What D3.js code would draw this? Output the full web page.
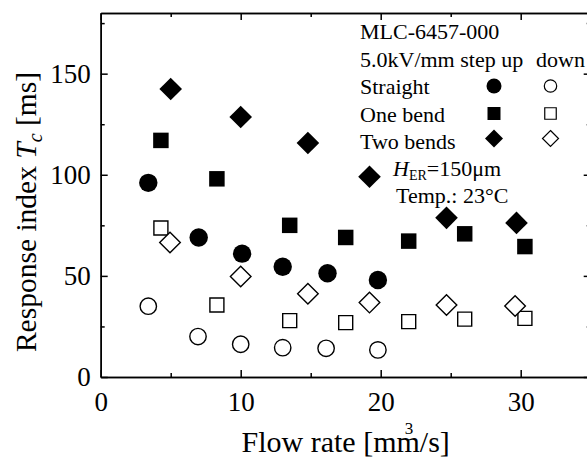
<!DOCTYPE html>
<html>
<head>
<meta charset="utf-8">
<script src="https://cdn.jsdelivr.net/npm/d3@7"></script>
<style>
  body { margin: 0; background: #fff; }
  svg { display: block; font-family: 'Liberation Serif', 'Times New Roman', serif; }
</style>
</head>
<body>
<svg id="chart"></svg>
<script>
// Response index Tc [ms] vs flow rate [mm3/s], MLC-6457-000 at 5.0kV/mm
const straightUp = [[3.4, 96], [7.0, 69], [10.1, 61], [13.0, 54.5], [16.2, 51.3], [19.8, 48]]
const straightDown = [[3.4, 35], [6.95, 20], [10.0, 16.2], [13.0, 14.5], [16.1, 14.2], [19.8, 13.4]]
const oneBendUp = [[4.3, 117], [8.3, 98], [13.5, 75], [17.5, 69], [22.0, 67.2], [26.0, 70.8], [30.3, 64.5]]
const oneBendDown = [[4.3, 73.7], [8.3, 35.6], [13.5, 27.9], [17.5, 26.9], [22.0, 27.4], [26.0, 28.6], [30.3, 29]]
const twoBendsUp = [[5.0, 142.4], [10.0, 128.6], [14.8, 115.7], [19.2, 99], [24.7, 78.7], [29.7, 76.2]]
const twoBendsDown = [[4.95, 66.5], [10.0, 49.7], [14.8, 41.2], [19.2, 36.8], [24.7, 35.6], [29.6, 35.1]]

const xTicks = [0, 10, 20, 30]
const xMinorTicks = [5, 15, 25, 35]
const yTicks = [0, 50, 100, 150]
const yMinorTicks = [25, 75, 125, 175]

const legendLines = ['MLC-6457-000', '5.0kV/mm step up', 'Straight', 'One bend', 'Two bends']

const width = 587
const height = 458
const plotLeft = 100.7
const plotRight = 590.7
const plotTop = 13
const plotBottom = 377

const svg = d3.select('#chart').attr('width', width).attr('height', height)

const x = d3.scaleLinear().domain([0, 35]).range([plotLeft, plotRight])
const y = d3.scaleLinear().domain([0, 180]).range([plotBottom, plotTop])

// axes, ticks pointing inward on all four sides
const styleAxis = g => {
  g.selectAll('path, line').attr('stroke', '#000').attr('stroke-width', 1.5)
  g.selectAll('text').attr('fill', '#000').attr('font-family', 'Liberation Serif').attr('font-size', 27)
}

svg.append('g')
  .attr('transform', `translate(0,${plotBottom})`)
  .call(d3.axisBottom(x).tickValues(xTicks).tickSizeInner(-7).tickSizeOuter(0).tickPadding(15))
  .call(styleAxis)
svg.append('g')
  .attr('transform', `translate(0,${plotBottom})`)
  .call(d3.axisBottom(x).tickValues(xMinorTicks).tickSizeInner(-4).tickSizeOuter(0).tickFormat(''))
  .call(styleAxis)
svg.append('g')
  .attr('transform', `translate(0,${plotTop})`)
  .call(d3.axisTop(x).tickValues(xTicks).tickSizeInner(-7).tickSizeOuter(0).tickFormat(''))
  .call(styleAxis)
svg.append('g')
  .attr('transform', `translate(0,${plotTop})`)
  .call(d3.axisTop(x).tickValues(xMinorTicks).tickSizeInner(-4).tickSizeOuter(0).tickFormat(''))
  .call(styleAxis)

svg.append('g')
  .attr('transform', `translate(${plotLeft},0)`)
  .call(d3.axisLeft(y).tickValues(yTicks).tickSizeInner(-7).tickSizeOuter(0).tickPadding(10))
  .call(styleAxis)
svg.append('g')
  .attr('transform', `translate(${plotLeft},0)`)
  .call(d3.axisLeft(y).tickValues(yMinorTicks).tickSizeInner(-4).tickSizeOuter(0).tickFormat(''))
  .call(styleAxis)
svg.append('g')
  .attr('transform', `translate(${plotRight},0)`)
  .call(d3.axisRight(y).tickValues(yTicks).tickSizeInner(-7).tickSizeOuter(0).tickFormat(''))
  .call(styleAxis)
svg.append('g')
  .attr('transform', `translate(${plotRight},0)`)
  .call(d3.axisRight(y).tickValues(yMinorTicks).tickSizeInner(-4).tickSizeOuter(0).tickFormat(''))
  .call(styleAxis)

// marker shapes
const diamond = h => `M0,${-h}L${h},0L0,${h}L${-h},0Z`
const square = s => `M${-s / 2},${-s / 2}h${s}v${s}h${-s}Z`

const drawCircles = (data, r, filled) => {
  svg.append('g')
    .selectAll('circle')
    .data(data)
    .enter()
    .append('circle')
    .attr('cx', d => x(d[0]))
    .attr('cy', d => y(d[1]))
    .attr('r', r)
    .attr('fill', filled ? '#000' : '#fff')
    .attr('stroke', '#000')
    .attr('stroke-width', filled ? 0 : 1.4)
}

const drawPaths = (data, shape, filled) => {
  svg.append('g')
    .selectAll('path')
    .data(data)
    .enter()
    .append('path')
    .attr('d', shape)
    .attr('transform', d => `translate(${x(d[0])},${y(d[1])})`)
    .attr('fill', filled ? '#000' : '#fff')
    .attr('stroke', '#000')
    .attr('stroke-width', filled ? 0 : 1.4)
}

drawCircles(straightDown, 8.2, false)
drawPaths(oneBendDown, square(14), false)
drawPaths(twoBendsDown, diamond(10.3), false)
drawCircles(straightUp, 9.2, true)
drawPaths(oneBendUp, square(15.5), true)
drawPaths(twoBendsUp, diamond(11.3), true)

// legend block
const legend = svg.append('g').attr('font-size', 22).attr('fill', '#000')
const legendY = [39, 66.5, 94, 121.5, 148.5]

legend.selectAll('text.line')
  .data(legendLines)
  .enter()
  .append('text')
  .attr('class', 'line')
  .attr('x', 360)
  .attr('y', (d, i) => legendY[i])
  .text(d => d)

legend.append('text').attr('x', 536).attr('y', legendY[1]).text('down')

legend.append('circle').attr('cx', 494).attr('cy', 86).attr('r', 7.5).attr('fill', '#000')
legend.append('circle').attr('cx', 550.5).attr('cy', 86).attr('r', 6.2)
  .attr('fill', '#fff').attr('stroke', '#000').attr('stroke-width', 1.2)
legend.append('path').attr('d', square(13)).attr('transform', 'translate(494,113.5)').attr('fill', '#000')
legend.append('path').attr('d', square(11.5)).attr('transform', 'translate(550.5,113.5)')
  .attr('fill', '#fff').attr('stroke', '#000').attr('stroke-width', 1.2)
legend.append('path').attr('d', diamond(9)).attr('transform', 'translate(494,138.5)').attr('fill', '#000')
legend.append('path').attr('d', diamond(8)).attr('transform', 'translate(550.5,138.5)')
  .attr('fill', '#fff').attr('stroke', '#000').attr('stroke-width', 1.2)

const her = legend.append('text').attr('x', 393).attr('y', 175.5)
her.append('tspan').attr('font-style', 'italic').text('H')
her.append('tspan').attr('font-size', 14).attr('dy', 4).text('ER')
her.append('tspan').attr('dy', -4).text('=150μm')

legend.append('text').attr('x', 396).attr('y', 202.5).text('Temp.: 23°C')

// axis titles
const xTitle = svg.append('text')
  .attr('x', (plotLeft + plotRight) / 2)
  .attr('y', 451.5)
  .attr('text-anchor', 'middle')
  .attr('font-size', 30)
xTitle.append('tspan').text('Flow rate [mm')
xTitle.append('tspan').attr('font-size', 17).attr('dx', -15).attr('dy', -18).text('3')
xTitle.append('tspan').attr('dx', 6.5).attr('dy', 18).text('/s]')

const yTitle = svg.append('text')
  .attr('transform', 'translate(36,212) rotate(-90)')
  .attr('text-anchor', 'middle')
  .attr('font-size', 29.5)
yTitle.append('tspan').text('Response index ')
yTitle.append('tspan').attr('font-style', 'italic').text('T')
yTitle.append('tspan').attr('font-style', 'italic').attr('font-size', 20).attr('dy', 6).text('c')
yTitle.append('tspan').attr('dy', -6).text(' [ms]')
</script>
</body>
</html>
